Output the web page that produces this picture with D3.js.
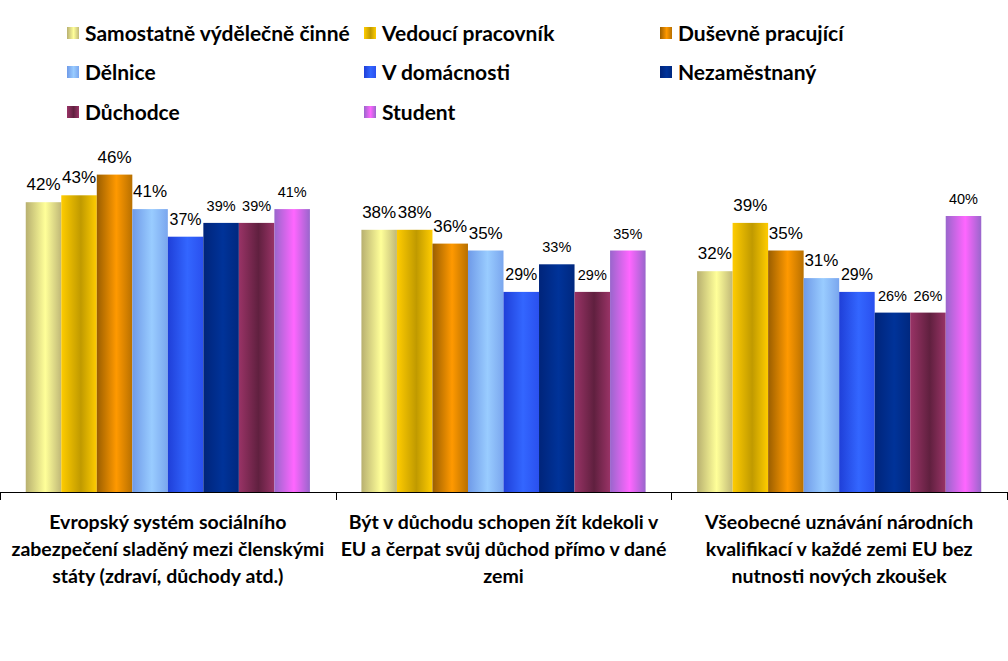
<!DOCTYPE html>
<html>
<head>
<meta charset="utf-8">
<script src="https://d3js.org/d3.v7.min.js"></script>
<style>
  html, body { margin: 0; padding: 0; background: #fff; }
  svg { display: block; }
</style>
</head>
<body>
<svg id="chart" width="1008" height="661"></svg>
<script>
// ----- data -----
const categories = [
  ['Evropský systém sociálního', 'zabezpečení sladěný mezi členskými', 'státy (zdraví, důchody atd.)'],
  ['Být v důchodu schopen žít kdekoli v', 'EU a čerpat svůj důchod přímo v dané', 'zemi'],
  ['Všeobecné uznávání národních', 'kvalifikací v každé zemi EU bez', 'nutnosti nových zkoušek']
];
const seriesNames = [
  'Samostatně výdělečně činné', 'Vedoucí pracovník', 'Duševně pracující',
  'Dělnice', 'V domácnosti', 'Nezaměstnaný', 'Důchodce', 'Student'
];
// values[series][category], percent
const samostatne  = [42, 38, 32];
const vedouci     = [43, 38, 39];
const dusevne     = [46, 36, 35];
const delnice     = [41, 35, 31];
const vDomacnosti = [37, 29, 29];
const nezamestn   = [39, 33, 26];
const duchodce    = [39, 29, 26];
const student     = [41, 35, 40];
const values = [samostatne, vedouci, dusevne, delnice, vDomacnosti, nezamestn, duchodce, student];

// gradient stops per series: [left, middle, right]
const seriesGrad = [
  ['#b8b070', '#ffff99', '#c0b878'],
  ['#ffcc00', '#c09a00', '#ffcc00'],
  ['#9a5e00', '#ff9900', '#b87000'],
  ['#6f9ae8', '#99ccff', '#7aa6ee'],
  ['#1f3fd8', '#3366ff', '#2a50ee'],
  ['#00247a', '#003399', '#00287f'],
  ['#993366', '#60203f', '#993366'],
  ['#9966cc', '#ff66ff', '#9966cc']
];
const labelSize = [17, 17, 17, 17, 16, 14.5, 14.5, 14.5];

const svg = d3.select('#chart');
const W = 1008;
const BASE_Y = 492;
const TOP_Y = 147;

const x0 = d3.scaleBand().domain(d3.range(categories.length)).range([0, 1007]).paddingInner(0).paddingOuter(0);
const x1 = d3.scaleBand().domain(d3.range(seriesNames.length)).range([0, x0.bandwidth()]).paddingInner(0).paddingOuter(0.725);
const y = d3.scaleLinear().domain([0, 50]).range([BASE_Y, TOP_Y]);

// gradients
const defs = svg.append('defs');
seriesGrad.forEach((g, i) => {
  const lg = defs.append('linearGradient').attr('id', 'grad' + i)
    .attr('x1', '0%').attr('x2', '100%').attr('y1', '0%').attr('y2', '0%');
  lg.append('stop').attr('offset', '0%').attr('stop-color', g[0]);
  lg.append('stop').attr('offset', '55%').attr('stop-color', g[1]);
  lg.append('stop').attr('offset', '100%').attr('stop-color', g[2]);
});

// bars
const groups = svg.append('g').selectAll('g.cat')
  .data(categories)
  .enter().append('g')
  .attr('class', 'cat')
  .attr('transform', (d, i) => `translate(${x0(i)},0)`);

groups.each(function(_, ci) {
  const g = d3.select(this);
  const data = values.map((s, si) => ({ si, v: s[ci] }));
  g.selectAll('rect')
    .data(data)
    .enter().append('rect')
    .attr('x', d => x1(d.si))
    .attr('y', d => y(d.v))
    .attr('width', x1.bandwidth())
    .attr('height', d => BASE_Y - y(d.v))
    .attr('fill', d => `url(#grad${d.si})`);
  g.selectAll('text.val')
    .data(data)
    .enter().append('text')
    .attr('class', 'val')
    .attr('x', d => x1(d.si) + x1.bandwidth() / 2)
    .attr('y', d => y(d.v) - 12)
    .attr('text-anchor', 'middle')
    .attr('font-family', 'Liberation Sans, Arial, sans-serif')
    .attr('font-size', d => labelSize[d.si] + 'px')
    .attr('fill', '#000')
    .text(d => d.v + '%');
});

// axis line and ticks
const axis = svg.append('g');
axis.append('line')
  .attr('x1', 0).attr('x2', W).attr('y1', BASE_Y + 0.5).attr('y2', BASE_Y + 0.5)
  .attr('stroke', '#000').attr('stroke-width', 1);
const tickXs = d3.range(categories.length + 1).map(i => i < categories.length ? x0(i) : x0.range()[1]);
axis.selectAll('line.tick')
  .data(tickXs)
  .enter().append('line')
  .attr('class', 'tick')
  .attr('x1', d => Math.round(d) + 0.5).attr('x2', d => Math.round(d) + 0.5)
  .attr('y1', BASE_Y).attr('y2', BASE_Y + 8)
  .attr('stroke', '#000');

// category labels
svg.append('g').selectAll('text.cat')
  .data(categories)
  .enter().append('text')
  .attr('class', 'cat')
  .attr('text-anchor', 'middle')
  .attr('font-family', 'Lato, Open Sans, sans-serif')
  .attr('font-weight', 'bold')
  .attr('font-size', '19.5px')
  .attr('fill', '#000')
  .each(function(lines, i) {
    const t = d3.select(this);
    lines.forEach((ln, li) => {
      t.append('tspan')
        .attr('x', x0(i) + x0.bandwidth() / 2)
        .attr('y', 529 + li * 27)
        .text(ln);
    });
  });

// legend
const legendCols = [67, 364, 660];
const legendRows = [33, 72, 112];
const legend = svg.append('g').selectAll('g.leg')
  .data(seriesNames)
  .enter().append('g')
  .attr('class', 'leg')
  .attr('transform', (d, i) => `translate(${legendCols[i % 3]},${legendRows[Math.floor(i / 3)]})`);
legend.append('rect')
  .attr('x', 0).attr('y', -6).attr('width', 12).attr('height', 12)
  .attr('fill', (d, i) => `url(#grad${i})`);
legend.append('text')
  .attr('x', 18).attr('y', 7.5)
  .attr('font-family', 'Lato, Open Sans, sans-serif')
  .attr('font-weight', 'bold')
  .attr('font-size', '21px')
  .attr('fill', '#000')
  .text(d => d);
</script>
</body>
</html>
